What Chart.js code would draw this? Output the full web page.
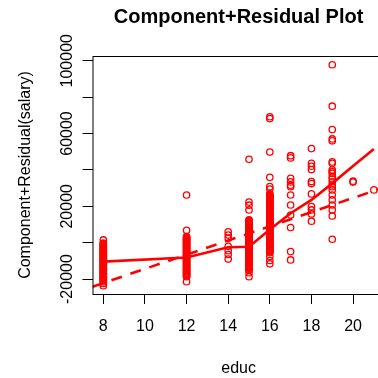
<!DOCTYPE html>
<html>
<head>
<meta charset="utf-8">
<script src="https://cdn.jsdelivr.net/npm/chart.js@4.4.1/dist/chart.umd.min.js"></script>
<style>
  html, body { margin: 0; padding: 0; overflow: hidden; background: #fff; }
  canvas { display: block; }
</style>
</head>
<body>
<canvas id="crPlot" width="390" height="378"></canvas>
<script>
// Data
const educLevels = [8, 12, 14, 15, 16, 17, 18, 19, 20, 21];

const resid8 = [1500, -200, -600, -1100, -1500, -2000, -2500, -2900, -3300, -3800, -4300, -4700, -5100, -5600, -6100, -6500, -6900, -7400, -7800, -8300, -8800, -9200, -9600, -10100, -10500, -11000, -11500, -11900, -12300, -12800, -13300, -13700, -14100, -14600, -15000, -15500, -16000, -16400, -16800, -17300, -17700, -18200, -18700, -19100, -19500, -20000, -20400, -20900, -21400, -22400, -23600];
const resid12 = [26200, 6800, 3300, 2900, 2400, 2000, 1500, 1100, 600, 200, -300, -700, -1200, -1600, -2100, -2500, -3000, -3400, -3900, -4300, -4800, -5200, -5700, -6100, -6600, -7000, -7500, -7900, -8400, -8800, -9300, -9700, -10200, -10600, -11100, -11500, -12000, -12400, -12900, -13300, -13800, -14200, -14700, -15100, -15600, -16000, -16500, -16900, -17400, -17800, -18300, -18700, -21400];
const resid14 = [6000, 4200, 2400, -2000, -4400, -6500, -9000];
const resid15 = [45800, 22300, 20600, 18000, 12500, 12100, 11600, 11200, 10700, 10300, 9800, 9400, 8900, 8500, 8000, 7600, 7100, 6700, 6200, 5800, 5300, 4900, 4400, 4000, 3500, 3100, 2600, 2200, 1700, 1300, 800, 400, -100, -500, -1000, -1400, -1900, -2300, -2800, -3200, -3700, -4100, -4600, -5000, -5500, -5900, -6400, -6800, -7300, -7700, -8200, -8600, -9100, -9500, -10000, -10400, -10900, -11300, -11800, -12200, -12700, -13100, -13600, -14000, -14500, -14900, -16500, -18700];
const resid16 = [69200, 68200, 49800, 35900, 30800, 29500, 26800, 26400, 25900, 25500, 25000, 24600, 24100, 23700, 23200, 22800, 22300, 21900, 21400, 21000, 20500, 20100, 19600, 19200, 18700, 18300, 17800, 17400, 16900, 16500, 16000, 15600, 15100, 14700, 14200, 13800, 13300, 12900, 12400, 12000, 11500, 11100, 10600, 10200, 9700, 9300, 8800, 8400, 7900, 7500, 7000, 6600, 6100, 5700, 5200, 4800, 4300, 3900, 3400, 3000, 2500, 2100, 1600, 1200, 700, 300, -200, -600, -1100, -1500, -2000, -2400, -2900, -3300, -3800, -4200, -4700, -5100, -5500, -7600, -9800, -11600];
const resid17 = [47800, 46600, 35400, 33400, 31600, 30800, 26200, 20700, 15200, 8300, -4900, -9500];
const resid18 = [51700, 43600, 42000, 40200, 33600, 32500, 26800, 19800, 18000, 15800, 11800];
const resid19 = [97800, 75000, 62200, 57000, 56000, 44400, 43600, 40000, 39000, 38100, 36300, 35000, 33500, 31700, 30800, 29000, 26200, 23500, 20700, 18000, 14700, 1900];
const resid20 = [33800, 33300];
const resid21 = [29000];
const residuals = [resid8, resid12, resid14, resid15, resid16, resid17, resid18, resid19, resid20, resid21];

// lowess smoother at each educ level
const smoothY = [-10400, -8100, -2500, -2200, 7300, 16200, 23500, 32600, 42100, 51500];

// linear fit (dashed), ends at the plot edges
const fitX = [7.48, 21.52];
const fitY = [-24200, 30500];

// axes
const xTicks = [8, 10, 12, 14, 16, 18, 20];
const yTicks = [-20000, 0, 20000, 40000, 60000, 80000, 100000];
const yTickLabels = ['-20000', '', '20000', '', '60000', '', '100000'];

const FONT = "'Liberation Sans', Arial, Helvetica, sans-serif";
Chart.defaults.font.family = FONT;
Chart.defaults.font.size = 16;
Chart.defaults.color = '#000';

const points = [];
educLevels.forEach((e, i) => {
  residuals[i].forEach(v => points.push({ x: e, y: v }));
});

// box around the plot and R-style rotated y labels
const rFrame = {
  id: 'rFrame',
  afterDraw(chart) {
    const { ctx, chartArea: a, scales: { y } } = chart;
    ctx.save();
    ctx.strokeStyle = '#000';
    ctx.lineWidth = 1;
    ctx.strokeRect(a.left + 0.5, a.top + 0.5, a.right - a.left, a.bottom - a.top);
    ctx.fillStyle = '#000';
    ctx.font = '16px ' + FONT;
    ctx.textAlign = 'center';
    ctx.textBaseline = 'alphabetic';
    yTicks.forEach((v, i) => {
      if (!yTickLabels[i]) return;
      ctx.save();
      ctx.translate(a.left - 21, y.getPixelForValue(v));
      ctx.rotate(-Math.PI / 2);
      ctx.fillText(yTickLabels[i], 0, 0);
      ctx.restore();
    });
    ctx.restore();
  }
};

new Chart(document.getElementById('crPlot'), {
  type: 'scatter',
  data: {
    datasets: [
      {
        label: 'lowess',
        data: educLevels.map((e, i) => ({ x: e, y: smoothY[i] })),
        showLine: true,
        borderColor: '#ff0000',
        borderWidth: 2.6,
        pointRadius: 0,
        tension: 0,
        order: 1
      },
      {
        label: 'fit',
        data: fitX.map((x, i) => ({ x: x, y: fitY[i] })),
        showLine: true,
        borderColor: '#ff0000',
        borderWidth: 2.6,
        borderDash: [11, 9],
        pointRadius: 0,
        order: 2
      },
      {
        label: 'residuals',
        data: points,
        pointStyle: 'circle',
        pointRadius: 3.2,
        borderWidth: 1.3,
        borderColor: '#ff0000',
        backgroundColor: 'rgba(0,0,0,0)',
        order: 3
      }
    ]
  },
  options: {
    responsive: false,
    devicePixelRatio: 1,
    animation: false,
    layout: { padding: 0 },
    plugins: {
      legend: { display: false },
      tooltip: { enabled: false },
      title: {
        display: true,
        text: 'Component+Residual Plot',
        fullSize: false,
        color: '#000',
        font: { size: 20, weight: 'bold' },
        padding: { top: 5, bottom: 27 }
      }
    },
    scales: {
      x: {
        type: 'linear',
        min: 7.48,
        max: 21.52,
        afterBuildTicks: s => { s.ticks = xTicks.map(v => ({ value: v })); },
        afterFit: s => { s.height = 84; },
        border: { display: false },
        grid: { drawOnChartArea: false, drawTicks: true, tickLength: 10, color: '#000' },
        ticks: { padding: 13, autoSkip: false, maxRotation: 0, color: '#000', callback: v => String(v) },
        title: { display: true, text: 'educ', color: '#000', padding: { top: 0, bottom: 0 } }
      },
      y: {
        type: 'linear',
        min: -28200,
        max: 102600,
        afterBuildTicks: s => { s.ticks = yTicks.map(v => ({ value: v })); },
        afterFit: s => { s.width = 92.5; },
        border: { display: false },
        grid: { drawOnChartArea: false, drawTicks: true, tickLength: 10, color: '#000' },
        ticks: { display: false },
        title: { display: true, text: 'Component+Residual(salary)', color: '#000', padding: { top: 16.4, bottom: 0 } }
      }
    }
  },
  plugins: [rFrame]
});
</script>
</body>
</html>
